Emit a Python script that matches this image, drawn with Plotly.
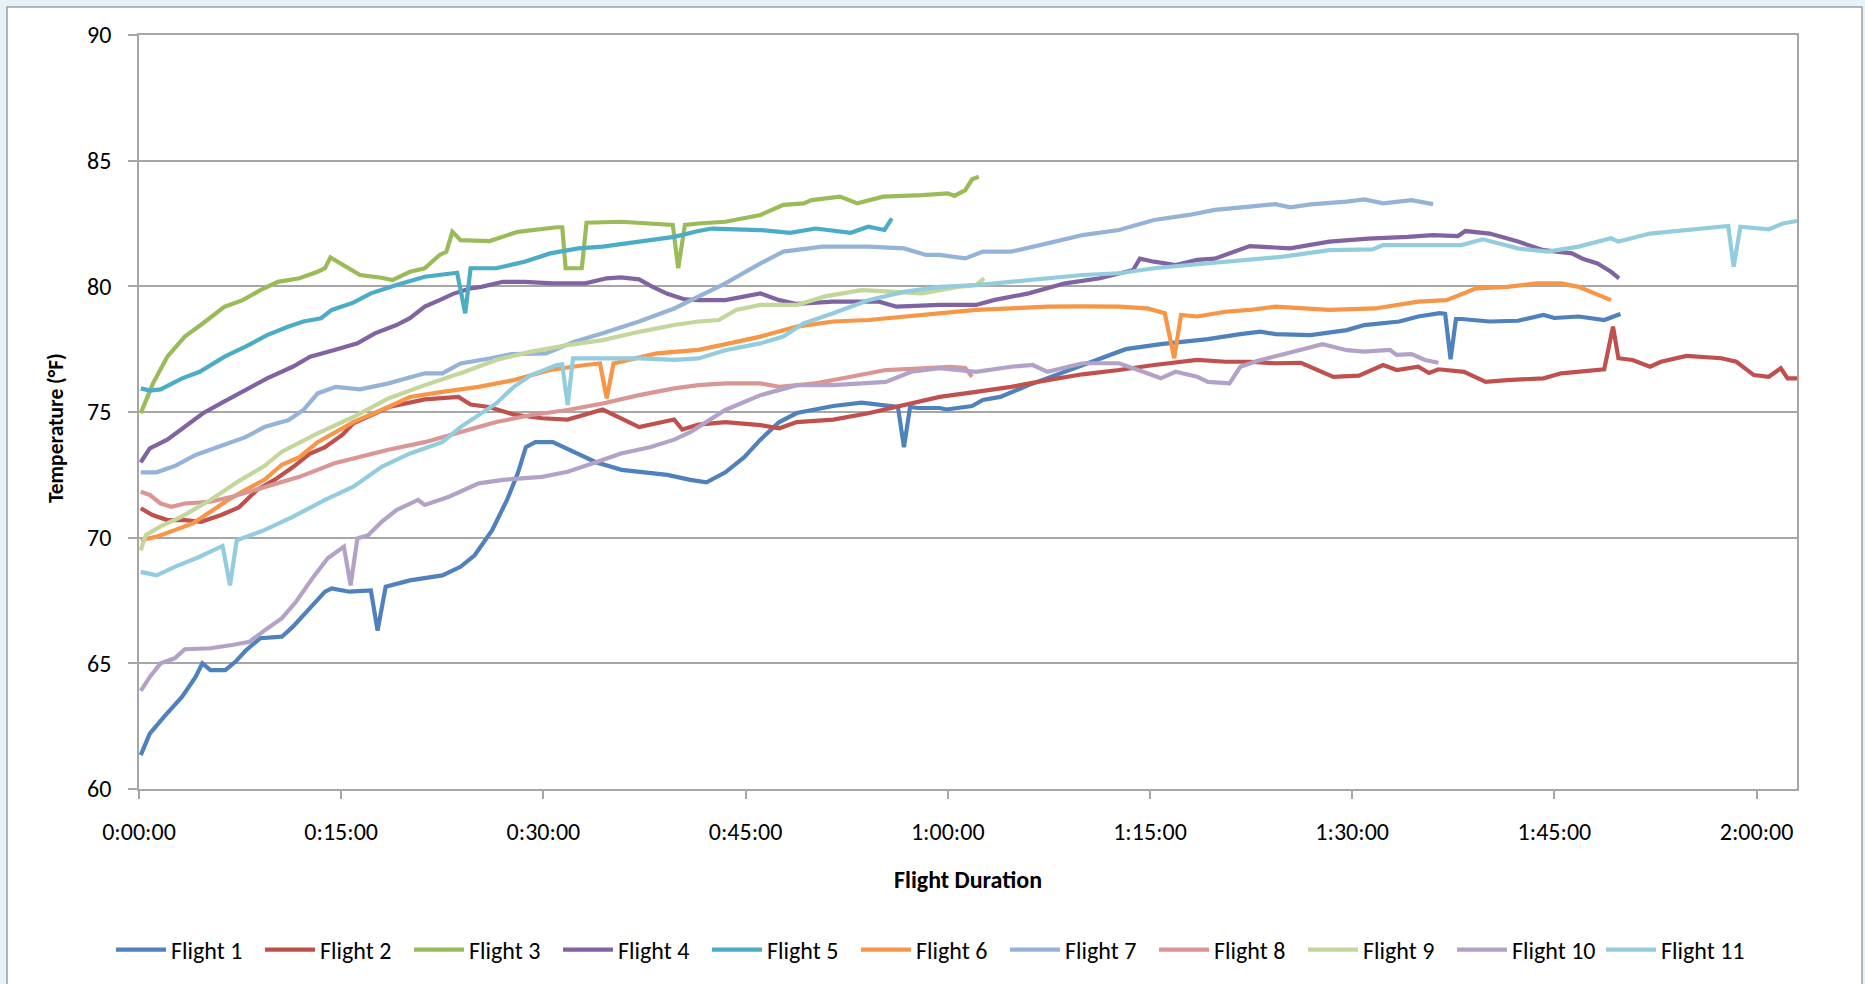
import plotly.graph_objects as go

# ---- data (minutes since start, temperature °F) ----
f1_min = [0.13, 0.8, 1.85, 3.2, 4.2, 4.7, 5.3, 6.4, 7.15, 7.9, 9.0, 10.6, 11.4, 12.5, 13.8, 14.3, 15.6, 17.2, 17.7, 18.3, 20.1, 22.5, 23.85, 24.9, 26.2, 27.3, 28.1, 28.7, 29.4, 30.7, 32.3, 33.9, 35.8, 39.2, 40.9, 42.1, 43.5, 44.9, 46.1, 47.5, 48.8, 51.5, 53.6, 55.7, 56.3, 56.75, 57.2, 57.8, 59.4, 59.9, 61.8, 62.6, 63.9, 66.0, 68.7, 71.3, 73.2, 75.8, 79.3, 81.7, 83.2, 84.3, 86.9, 89.6, 90.9, 93.5, 94.9, 96.5, 96.9, 97.3, 97.7, 98.1, 100.2, 102.3, 104.2, 105.0, 106.8, 108.7, 109.9]
f1_temp = [61.35, 62.2, 62.87, 63.67, 64.46, 65.0, 64.73, 64.73, 65.06, 65.5, 66.0, 66.06, 66.45, 67.1, 67.85, 67.98, 67.85, 67.9, 66.3, 68.05, 68.3, 68.5, 68.84, 69.3, 70.3, 71.5, 72.56, 73.6, 73.8, 73.8, 73.4, 73.0, 72.7, 72.5, 72.3, 72.2, 72.6, 73.2, 73.9, 74.6, 74.96, 75.24, 75.37, 75.24, 75.2, 73.6, 75.2, 75.16, 75.16, 75.1, 75.24, 75.48, 75.6, 76.07, 76.6, 77.14, 77.5, 77.7, 77.9, 78.1, 78.2, 78.1, 78.06, 78.26, 78.46, 78.6, 78.8, 78.93, 78.9, 77.1, 78.7, 78.7, 78.6, 78.63, 78.86, 78.74, 78.8, 78.66, 78.9]

f2_min = [0.13, 1.0, 2.1, 3.4, 4.6, 6.1, 7.4, 8.75, 10.05, 11.4, 12.7, 13.8, 15.1, 15.9, 18.55, 21.2, 23.7, 24.6, 25.95, 27.8, 29.9, 31.8, 34.4, 37.1, 39.7, 40.3, 41.5, 43.5, 46.1, 47.5, 48.8, 51.5, 54.1, 56.75, 59.4, 62.1, 64.7, 67.4, 70.0, 72.7, 75.3, 78.5, 80.6, 82.4, 84.3, 86.2, 88.6, 90.5, 92.3, 93.3, 94.9, 95.7, 96.4, 98.3, 99.9, 101.5, 104.2, 105.5, 108.7, 109.35, 109.75, 110.8, 112.1, 112.9, 114.8, 117.4, 118.5, 119.8, 120.9, 121.8, 122.3, 123.0]
f2_temp = [71.17, 70.9, 70.7, 70.7, 70.63, 70.9, 71.2, 71.9, 72.3, 72.8, 73.35, 73.6, 74.1, 74.55, 75.2, 75.5, 75.6, 75.3, 75.2, 74.9, 74.75, 74.7, 75.1, 74.4, 74.7, 74.3, 74.5, 74.6, 74.48, 74.35, 74.6, 74.7, 74.95, 75.28, 75.6, 75.8, 76.0, 76.27, 76.5, 76.67, 76.87, 77.07, 77.0, 77.0, 76.94, 76.96, 76.4, 76.45, 76.87, 76.67, 76.8, 76.55, 76.7, 76.6, 76.2, 76.27, 76.34, 76.54, 76.7, 78.4, 77.14, 77.07, 76.8, 77.0, 77.23, 77.14, 77.0, 76.47, 76.4, 76.74, 76.34, 76.34]

f3_min = [0.13, 1.04, 2.1, 3.4, 4.75, 6.35, 7.7, 9.0, 10.3, 11.9, 13.25, 13.8, 14.2, 15.35, 16.4, 18.0, 18.8, 20.1, 21.2, 22.3, 22.8, 23.25, 23.85, 26.0, 28.1, 31.0, 31.4, 31.65, 32.85, 33.2, 35.75, 39.6, 40.0, 40.5, 41.5, 43.5, 46.1, 47.8, 49.3, 49.9, 52.0, 53.3, 55.2, 58.1, 60.0, 60.5, 61.3, 61.8, 62.3]
f3_temp = [74.95, 76.14, 77.2, 78.0, 78.53, 79.19, 79.45, 79.85, 80.18, 80.32, 80.58, 80.72, 81.15, 80.78, 80.45, 80.34, 80.25, 80.58, 80.72, 81.25, 81.38, 82.17, 81.84, 81.8, 82.17, 82.35, 82.35, 80.72, 80.72, 82.53, 82.57, 82.44, 80.72, 82.44, 82.5, 82.57, 82.84, 83.24, 83.3, 83.43, 83.57, 83.3, 83.57, 83.63, 83.7, 83.6, 83.83, 84.26, 84.36]

f4_min = [0.13, 0.8, 2.1, 3.4, 4.75, 6.1, 7.9, 9.5, 11.4, 12.7, 14.5, 16.2, 17.5, 19.1, 20.1, 21.2, 22.3, 23.3, 24.6, 25.4, 27.0, 28.6, 30.7, 33.1, 34.7, 35.75, 37.1, 38.1, 39.2, 40.5, 41.5, 43.5, 46.1, 47.5, 48.8, 51.5, 54.9, 56.2, 59.4, 62.1, 63.4, 66.0, 68.7, 71.3, 73.75, 74.25, 75.3, 76.9, 78.5, 79.8, 82.4, 85.4, 88.3, 91.2, 94.1, 96.0, 97.85, 98.4, 100.2, 102.3, 104.2, 106.3, 107.1, 108.2, 109.2, 109.8]
f4_temp = [73.0, 73.55, 73.9, 74.4, 74.95, 75.35, 75.87, 76.34, 76.8, 77.2, 77.47, 77.73, 78.13, 78.46, 78.73, 79.19, 79.45, 79.7, 79.92, 79.98, 80.18, 80.18, 80.12, 80.12, 80.32, 80.36, 80.28, 79.98, 79.7, 79.48, 79.45, 79.45, 79.72, 79.45, 79.3, 79.39, 79.39, 79.19, 79.26, 79.26, 79.45, 79.72, 80.12, 80.32, 80.65, 81.1, 80.98, 80.85, 81.05, 81.1, 81.6, 81.51, 81.78, 81.9, 81.97, 82.04, 82.0, 82.2, 82.1, 81.78, 81.44, 81.31, 81.1, 80.91, 80.58, 80.32]

f5_min = [0.13, 0.8, 1.6, 3.2, 4.5, 6.35, 7.9, 9.5, 11.1, 12.2, 13.5, 14.3, 15.9, 17.2, 19.1, 21.2, 23.6, 24.2, 24.6, 26.5, 28.6, 30.5, 32.6, 34.4, 37.1, 39.7, 41.5, 42.5, 46.1, 48.3, 50.2, 52.8, 54.1, 55.3, 55.85]
f5_temp = [75.94, 75.85, 75.9, 76.34, 76.6, 77.2, 77.6, 78.06, 78.4, 78.6, 78.73, 79.06, 79.35, 79.72, 80.05, 80.38, 80.54, 78.93, 80.72, 80.72, 80.98, 81.31, 81.51, 81.58, 81.78, 81.97, 82.2, 82.3, 82.24, 82.13, 82.3, 82.13, 82.37, 82.24, 82.7]

f6_min = [0.13, 1.3, 2.65, 4.0, 5.3, 6.6, 7.9, 9.3, 10.6, 11.9, 13.25, 15.9, 18.5, 20.1, 22.5, 25.2, 27.8, 30.5, 33.1, 34.2, 34.7, 35.2, 38.4, 41.5, 43.8, 46.1, 48.8, 51.5, 54.1, 56.75, 59.4, 62.1, 64.7, 67.4, 70.0, 72.7, 74.8, 76.1, 76.8, 77.3, 78.5, 80.6, 82.4, 84.3, 88.3, 91.7, 94.9, 97.0, 99.2, 101.5, 103.7, 105.5, 106.8, 107.9, 109.2]
f6_temp = [69.9, 70.04, 70.3, 70.57, 71.03, 71.5, 71.9, 72.3, 72.9, 73.2, 73.8, 74.6, 75.2, 75.6, 75.8, 76.0, 76.27, 76.67, 76.87, 76.93, 75.54, 76.93, 77.33, 77.47, 77.73, 78.0, 78.4, 78.6, 78.66, 78.8, 78.93, 79.06, 79.12, 79.19, 79.2, 79.19, 79.12, 78.93, 77.14, 78.86, 78.8, 78.99, 79.06, 79.19, 79.06, 79.12, 79.39, 79.45, 79.92, 79.98, 80.12, 80.12, 79.98, 79.72, 79.45]

f7_min = [0.13, 1.3, 2.65, 4.2, 5.8, 7.9, 9.3, 11.1, 12.2, 13.25, 14.6, 16.4, 18.5, 21.2, 22.5, 23.85, 26.0, 27.6, 30.2, 32.3, 34.4, 37.1, 39.7, 41.5, 43.5, 46.1, 47.8, 50.7, 54.1, 56.75, 58.4, 59.4, 61.3, 62.6, 64.7, 67.4, 70.0, 72.7, 75.3, 77.9, 79.8, 82.4, 84.3, 85.4, 86.9, 89.6, 90.9, 92.3, 94.4, 96.0]
f7_temp = [72.6, 72.6, 72.85, 73.29, 73.6, 74.0, 74.4, 74.68, 75.08, 75.74, 76.0, 75.9, 76.14, 76.54, 76.54, 76.93, 77.13, 77.3, 77.33, 77.8, 78.13, 78.6, 79.12, 79.59, 80.12, 80.91, 81.38, 81.58, 81.58, 81.51, 81.25, 81.25, 81.11, 81.38, 81.38, 81.71, 82.04, 82.24, 82.64, 82.84, 83.04, 83.17, 83.27, 83.14, 83.26, 83.37, 83.46, 83.3, 83.43, 83.27]

f8_min = [0.13, 0.8, 1.6, 2.4, 3.4, 5.3, 6.9, 9.3, 11.9, 14.5, 16.2, 18.5, 21.2, 23.85, 26.5, 29.1, 31.8, 34.4, 37.1, 39.7, 41.5, 43.5, 46.1, 47.5, 50.2, 52.8, 55.4, 58.1, 60.2, 61.3, 61.8]
f8_temp = [71.83, 71.7, 71.36, 71.23, 71.36, 71.43, 71.63, 72.03, 72.42, 72.96, 73.2, 73.5, 73.8, 74.2, 74.6, 74.88, 75.08, 75.34, 75.67, 75.94, 76.07, 76.14, 76.14, 76.0, 76.14, 76.4, 76.67, 76.74, 76.8, 76.75, 76.4]

f9_min = [0.13, 0.5, 1.6, 3.2, 5.3, 7.4, 9.3, 10.6, 13.25, 15.9, 18.5, 21.2, 23.85, 26.5, 29.1, 31.8, 34.4, 37.1, 39.7, 41.5, 43.0, 44.3, 46.1, 48.8, 50.9, 53.6, 55.4, 58.1, 60.75, 62.1, 62.7]
f9_temp = [69.5, 70.1, 70.45, 70.85, 71.5, 72.25, 72.85, 73.42, 74.15, 74.8, 75.54, 76.07, 76.54, 77.07, 77.4, 77.66, 77.86, 78.19, 78.46, 78.6, 78.66, 79.06, 79.26, 79.26, 79.6, 79.85, 79.8, 79.72, 79.98, 80.05, 80.32]

f10_min = [0.13, 0.8, 1.6, 2.65, 3.4, 5.3, 6.9, 8.2, 9.3, 10.6, 11.65, 12.95, 14.0, 15.2, 15.7, 16.2, 17.0, 18.0, 19.1, 20.7, 21.2, 23.0, 25.2, 27.0, 29.9, 31.8, 33.9, 35.75, 37.9, 39.7, 40.9, 43.5, 46.1, 48.8, 51.5, 55.4, 57.3, 59.4, 62.1, 64.7, 66.3, 67.4, 70.0, 72.7, 74.8, 75.8, 76.9, 78.5, 79.3, 80.9, 81.7, 83.0, 84.9, 87.8, 89.6, 90.9, 92.8, 93.3, 94.4, 95.4, 96.4]
f10_temp = [63.9, 64.46, 65.0, 65.2, 65.56, 65.6, 65.73, 65.86, 66.3, 66.8, 67.45, 68.45, 69.18, 69.64, 68.1, 69.97, 70.1, 70.63, 71.1, 71.5, 71.3, 71.63, 72.16, 72.3, 72.42, 72.62, 73.0, 73.35, 73.6, 73.9, 74.2, 75.08, 75.67, 76.07, 76.07, 76.2, 76.6, 76.74, 76.6, 76.8, 76.87, 76.6, 76.94, 76.94, 76.54, 76.34, 76.6, 76.4, 76.2, 76.14, 76.8, 77.04, 77.3, 77.7, 77.46, 77.4, 77.47, 77.27, 77.3, 77.07, 76.96]

f11_min = [0.13, 1.3, 2.65, 4.5, 6.2, 6.75, 7.25, 9.3, 11.4, 13.8, 15.9, 18.0, 20.1, 22.5, 23.85, 26.5, 27.8, 29.1, 31.0, 31.4, 31.8, 32.2, 34.4, 37.1, 39.7, 41.5, 43.5, 46.1, 47.8, 49.3, 51.5, 54.1, 56.75, 59.4, 62.1, 64.7, 67.4, 70.0, 72.7, 75.3, 77.9, 80.6, 82.4, 84.9, 88.3, 91.5, 92.3, 98.1, 99.7, 102.3, 104.5, 106.8, 109.2, 109.75, 112.1, 114.8, 117.4, 117.9, 118.3, 118.8, 120.9, 121.95, 123.0]
f11_temp = [68.64, 68.5, 68.84, 69.24, 69.67, 68.1, 69.9, 70.3, 70.83, 71.5, 72.03, 72.82, 73.35, 73.8, 74.4, 75.34, 76.0, 76.47, 76.87, 76.9, 75.28, 77.13, 77.13, 77.13, 77.07, 77.13, 77.46, 77.73, 78.0, 78.53, 78.93, 79.45, 79.78, 79.98, 80.05, 80.18, 80.32, 80.45, 80.52, 80.72, 80.85, 80.98, 81.08, 81.18, 81.44, 81.47, 81.64, 81.64, 81.87, 81.51, 81.38, 81.58, 81.91, 81.78, 82.1, 82.24, 82.4, 82.4, 80.78, 82.37, 82.27, 82.5, 82.6]

series_names = ["Flight 1", "Flight 2", "Flight 3", "Flight 4", "Flight 5", "Flight 6",
                "Flight 7", "Flight 8", "Flight 9", "Flight 10", "Flight 11"]
series_colors = ["#4F81BD", "#C0504D", "#9BBB59", "#8064A2", "#4BACC6", "#F79646",
                 "#95B3D7", "#D99694", "#C3D69B", "#B3A2C7", "#93CDDD"]

x_tick_vals = [0, 15, 30, 45, 60, 75, 90, 105, 120]
x_tick_text = ["0:00:00", "0:15:00", "0:30:00", "0:45:00", "1:00:00",
               "1:15:00", "1:30:00", "1:45:00", "2:00:00"]
y_tick_vals = [60, 65, 70, 75, 80, 85, 90]

xs = [f1_min, f2_min, f3_min, f4_min, f5_min, f6_min, f7_min, f8_min, f9_min, f10_min, f11_min]
ys = [f1_temp, f2_temp, f3_temp, f4_temp, f5_temp, f6_temp, f7_temp, f8_temp, f9_temp, f10_temp, f11_temp]

FONT = "Carlito, Lato, 'Noto Sans', sans-serif"
GRID = "#a6a6a6"

fig = go.Figure()
for name, col, x, y in zip(series_names, series_colors, xs, ys):
    fig.add_trace(go.Scatter(x=x, y=y, mode="lines", name=name,
                             line=dict(color=col, width=4.2)))

W, H = 1865, 984
ML, MR, MT, MB = 139, 68, 35, 195
PW, PH = W - ML - MR, H - MT - MB

def px_x(v):
    return (v - ML) / PW

def px_y(v):
    return (H - MB - v) / PH

fig.update_layout(
    width=W, height=H,
    margin=dict(l=ML, r=MR, t=MT, b=MB, pad=0),
    paper_bgcolor="#e6f2f7",
    plot_bgcolor="white",
    font=dict(family=FONT, size=24, color="#000000"),
    showlegend=True,
    legend=dict(orientation="h", x=px_x(111), y=px_y(950), xanchor="left", yanchor="middle",
                font=dict(family=FONT, size=24, color="#000000"),
                bgcolor="rgba(0,0,0,0)", entrywidth=84, entrywidthmode="pixels",
                itemwidth=50, tracegroupgap=0),
    shapes=[dict(type="rect", xref="paper", yref="paper", layer="below",
                 x0=px_x(7), x1=px_x(1862), y0=px_y(1010), y1=px_y(7),
                 fillcolor="white", line=dict(color="#a0a0a0", width=1.5))],
    annotations=[
        dict(text="<b>Flight Duration</b>", xref="paper", yref="paper",
             x=px_x(968), y=px_y(880), xanchor="center", yanchor="middle",
             showarrow=False, font=dict(family=FONT, size=24, color="#000000")),
        dict(text="<b>Temperature (°F)</b>", xref="paper", yref="paper",
             x=px_x(56), y=px_y(428), xanchor="center", yanchor="middle", textangle=-90,
             showarrow=False, font=dict(family=FONT, size=21.5, color="#000000")),
    ],
)

fig.update_xaxes(range=[0, 123], tickvals=x_tick_vals, ticktext=x_tick_text,
                 showgrid=False, zeroline=False,
                 showline=True, linecolor=GRID, linewidth=1.5, mirror=True,
                 ticks="outside", ticklen=8, tickcolor=GRID, tickwidth=1.5,
                 ticklabelstandoff=12,
                 tickfont=dict(family=FONT, size=24, color="#000000"))
fig.update_yaxes(range=[60, 90], tickvals=y_tick_vals,
                 showgrid=True, gridcolor=GRID, gridwidth=1.5, zeroline=False,
                 showline=True, linecolor=GRID, linewidth=1.5, mirror=True,
                 ticks="outside", ticklen=9, tickcolor=GRID, tickwidth=1.5,
                 ticklabelstandoff=12,
                 tickfont=dict(family=FONT, size=24, color="#000000"))

fig.write_html("out.html", config={"displayModeBar": False},
               post_script="document.body.style.margin='0';document.body.style.overflow='hidden';")
